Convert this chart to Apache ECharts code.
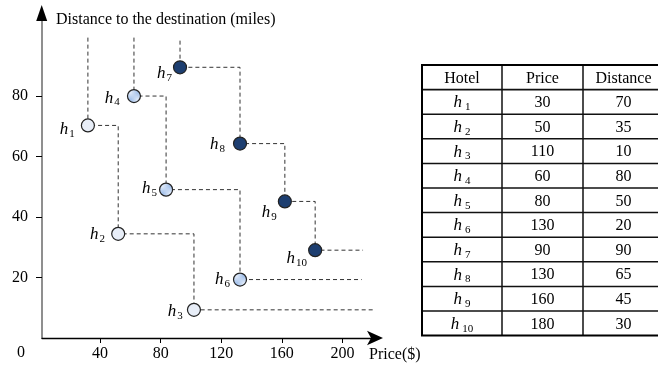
<!DOCTYPE html>
<html>
<head>
<meta charset="utf-8">
<script src="https://cdn.jsdelivr.net/npm/echarts@6/dist/echarts.min.js"></script>
<style>html,body{margin:0;padding:0;background:#fff}#c{width:658px;height:370px}</style>
</head>
<body>
<div id="c"></div>
<script>
// ---- data ----
const hotelSubs = ['1','2','3','4','5','6','7','8','9','10'];
const tablePrice = [30, 50, 110, 60, 80, 130, 90, 130, 160, 180];
const tableDistance = [70, 35, 10, 80, 50, 20, 90, 65, 45, 30];
const plotPrice = [32, 52, 102, 62.4, 83.6, 132.4, 92.8, 132.4, 162, 182];
const plotDistance = [70.2, 34.4, 9.3, 79.9, 49, 19.3, 89.4, 64.2, 45.1, 29];
const layers = [[0, 1, 2], [3, 4, 5], [6, 7, 8, 9]];
const layerTop = [99.2, 99.2, 98.2];
const layerEnd = [221.5, 212.7, 213.6];
const xTicks = [40, 80, 120, 160, 200];
const yTicks = [20, 40, 60, 80];
const tableHeader = ['Hotel', 'Price', 'Distance'];

// ---- layout / style ----
const FONT = '"Liberation Serif", "DejaVu Serif", serif';
const labelShift = [[-6,4],[-6,1],[-4,2],[-7,2],[-2,-1],[-3,0],[-1,6],[-8,1],[-1,11],[-1,8]];

function checker() {
  const cv = document.createElement('canvas');
  cv.width = 4; cv.height = 4;
  const g = cv.getContext('2d');
  g.fillStyle = '#a6c3ec'; g.fillRect(0, 0, 4, 4);
  g.fillStyle = '#dde8f8'; g.fillRect(0, 0, 2, 2); g.fillRect(2, 2, 2, 2);
  return cv;
}
const layerStyle = [
  {color: '#e8eef8'},
  {color: {image: checker(), repeat: 'repeat'}},
  {color: '#1d3e70'}
];
const richH = {
  i: {fontFamily: FONT, fontStyle: 'italic', fontSize: 17, color: '#000'},
  s: {fontFamily: FONT, fontSize: 11, color: '#000', padding: [9, 0, 0, 1]},
  t: {fontFamily: FONT, fontSize: 11, color: '#000', padding: [9, 0, 0, 3]}
};

const chart = echarts.init(document.getElementById('c'));
const series = [];
layers.forEach((idx, li) => {
  // dashed skyline
  const pts = [];
  pts.push([plotPrice[idx[0]], layerTop[li]]);
  idx.forEach((k, j) => {
    if (j > 0) pts.push([plotPrice[k], plotDistance[idx[j - 1]]]);
    pts.push([plotPrice[k], plotDistance[k]]);
  });
  pts.push([layerEnd[li], plotDistance[idx[idx.length - 1]]]);
  series.push({
    type: 'line', data: pts, symbol: 'none', silent: true, z: 1,
    lineStyle: {color: '#333', width: 1, type: [4, 3]}
  });
  series.push({
    type: 'scatter', z: 3, symbolSize: 13,
    itemStyle: Object.assign({borderColor: '#222', borderWidth: 1.2, opacity: 1}, layerStyle[li]),
    data: idx.map(k => ({
      value: [plotPrice[k], plotDistance[k]],
      label: {
        show: true, position: 'left', distance: 0, offset: labelShift[k],
        formatter: '{i|h}{s|' + hotelSubs[k] + '}', rich: richH
      }
    }))
  });
});

// table
const tLeft = 422, tTop = 65, colW = [80, 81, 81], rowH = 24.6;
const nRows = hotelSubs.length + 1;
const tW = colW[0] + colW[1] + colW[2];
const tH = rowH * nRows;
const graphics = [];
for (let r = 1; r < nRows; r++) {
  graphics.push({type: 'line', shape: {x1: tLeft, y1: tTop + r * rowH, x2: tLeft + tW, y2: tTop + r * rowH}, style: {stroke: '#111', lineWidth: r === 1 ? 1.8 : 1.5}});
}
let cx = tLeft;
for (let c = 0; c < 2; c++) {
  cx += colW[c];
  graphics.push({type: 'line', shape: {x1: cx, y1: tTop, x2: cx, y2: tTop + tH}, style: {stroke: '#111', lineWidth: 1.5}});
}
graphics.push({type: 'rect', shape: {x: tLeft, y: tTop, width: tW, height: tH}, style: {fill: 'none', stroke: '#000', lineWidth: 2}});
const colCenter = [tLeft + colW[0] / 2, tLeft + colW[0] + colW[1] / 2, tLeft + colW[0] + colW[1] + colW[2] / 2];
tableHeader.forEach((h, c) => {
  graphics.push({type: 'text', x: colCenter[c], y: tTop + rowH / 2 + 1, style: {text: h, font: '16px ' + FONT, fill: '#000', align: 'center', verticalAlign: 'middle'}});
});
hotelSubs.forEach((s, r) => {
  const y = tTop + (r + 1.5) * rowH + 1;
  graphics.push({type: 'text', x: colCenter[0], y: y, style: {text: '{i|h}{t|' + s + '}', rich: richH, align: 'center', verticalAlign: 'middle'}});
  graphics.push({type: 'text', x: colCenter[1], y: y, style: {text: String(tablePrice[r]), font: '16px ' + FONT, fill: '#000', align: 'center', verticalAlign: 'middle'}});
  graphics.push({type: 'text', x: colCenter[2], y: y, style: {text: String(tableDistance[r]), font: '16px ' + FONT, fill: '#000', align: 'center', verticalAlign: 'middle'}});
});
// axis texts
graphics.push({type: 'text', x: 56, y: 20, style: {text: 'Distance to the destination (miles)', font: '16px ' + FONT, fill: '#000', verticalAlign: 'middle'}});
graphics.push({type: 'text', x: 369, y: 355, style: {text: 'Price($)', font: '16px ' + FONT, fill: '#000', verticalAlign: 'middle'}});
graphics.push({type: 'text', x: 21, y: 353, style: {text: '0', font: '16px ' + FONT, fill: '#000', align: 'center', verticalAlign: 'middle'}});
// y-axis arrow head (black, over the grey axis line)
graphics.push({type: 'polygon', shape: {points: [[41.7, 5], [36.2, 21], [47.2, 21]]}, style: {fill: '#000'}, z: 10});

chart.setOption({
  animation: false,
  backgroundColor: '#fff',
  grid: {left: 42, right: 283, top: 14, bottom: 32},
  xAxis: {
    type: 'value', min: 1.7, max: 221.5, splitLine: {show: false},
    axisLine: {lineStyle: {color: '#000', width: 1.3}, symbol: ['none', 'arrow'], symbolSize: [11, 16], symbolOffset: [0, 8]},
    axisTick: {customValues: xTicks, length: 5, lineStyle: {color: '#000'}},
    axisLabel: {customValues: xTicks, margin: 8, fontFamily: FONT, fontSize: 16, color: '#000'}
  },
  yAxis: {
    type: 'value', min: 0, max: 107, splitLine: {show: false},
    axisLine: {lineStyle: {color: '#6a6a6a', width: 1.5}, symbol: ['none', 'none']},
    axisTick: {customValues: yTicks, length: 6, lineStyle: {color: '#000'}},
    axisLabel: {customValues: yTicks, margin: 14, fontFamily: FONT, fontSize: 16, color: '#000'}
  },
  graphic: graphics,
  series: series
});
</script>
</body>
</html>
